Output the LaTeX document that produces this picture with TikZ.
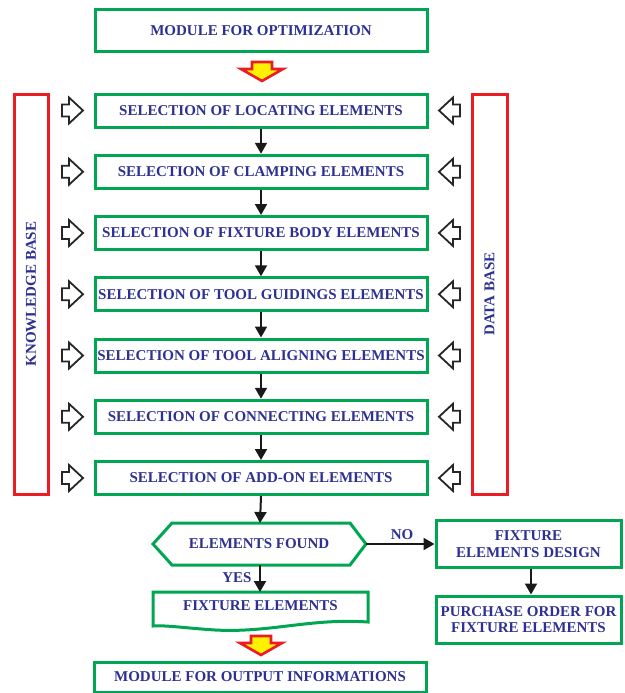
\documentclass[tikz,border=0pt]{standalone}
\usepackage{fontspec}
\setmainfont{Liberation Serif}
\usetikzlibrary{arrows.meta}
\definecolor{bxgreen}{HTML}{00A651}
\definecolor{bxred}{HTML}{ED1C24}
\definecolor{txtblue}{HTML}{2E3192}
\definecolor{arryellow}{HTML}{FFF200}
\tikzset{
  txt/.style={text=txtblue, font=\fontsize{15}{16.5}\selectfont\bfseries, align=center, inner sep=0pt},
  box/.style={txt, draw=bxgreen, line width=3pt, fill=white, minimum width=332pt, minimum height=33pt},
  sidebox/.style={txt, draw=bxgreen, line width=3pt, fill=white, minimum width=185pt, minimum height=47pt},
  basebox/.style={txt, draw=bxred, line width=3pt, rotate=90, minimum width=400pt},
  conn/.style={draw=black!90, line width=2pt, -{Triangle[length=11pt,width=12pt]}},
  lbl/.style={txt},
  downarrow/.pic={\draw[draw=bxred, fill=arryellow, line width=2.6pt, line join=miter]
     (-10,0) -- (10,0) -- (10,7) -- (21,7) -- (0,19) -- (-21,7) -- (-10,7) -- cycle;},
  harrow/.pic={\draw[draw=black!85, fill=white, line width=1.8pt, line join=miter]
     (-11,-6) -- (-4,-6) -- (-4,-13) -- (10,0) -- (-4,13) -- (-4,6) -- (-11,6) -- cycle;}
}
\begin{document}
\begin{tikzpicture}[x=1pt,y=-1pt]
\useasboundingbox[fill=white] (0,0) rectangle (624,693);

\node[box, minimum height=42pt] (opt) at (261,31) {MODULE FOR OPTIMIZATION};
\path (262,62) pic {downarrow};

\node[box] (s1) at (261,110.5) {SELECTION OF LOCATING ELEMENTS};
\node[box] (s2) at (261,171.75) {SELECTION OF CLAMPING ELEMENTS};
\node[box] (s3) at (261,233) {SELECTION OF FIXTURE BODY ELEMENTS};
\node[box] (s4) at (261,294.25) {SELECTION OF TOOL GUIDINGS ELEMENTS};
\node[box] (s5) at (261,355.5) {SELECTION OF TOOL ALIGNING ELEMENTS};
\node[box] (s6) at (261,416.75) {SELECTION OF CONNECTING ELEMENTS};
\node[box] (s7) at (261,478) {SELECTION OF ADD-ON ELEMENTS};

\node[basebox, minimum height=34pt] (kb) at (31,294) {KNOWLEDGE BASE};
\node[basebox, minimum height=35pt] (db) at (489.5,294) {DATA BASE};

\foreach \yy in {110.5,171.75,233,294.25,355.5,416.75,478}{
  \path (73,\yy) pic {harrow};
  \path (449,\yy) pic[xscale=-1] {harrow};
}

\draw[conn] (s1) -- (s2);
\draw[conn] (s2) -- (s3);
\draw[conn] (s3) -- (s4);
\draw[conn] (s4) -- (s5);
\draw[conn] (s5) -- (s6);
\draw[conn] (s6) -- (s7);

% decision hexagon
\node[txt] (found) at (259,544) {ELEMENTS FOUND};
\draw[draw=bxgreen, line width=3pt, line join=miter] (153,544) -- (172,523) -- (350,523) -- (366,544) -- (350,565) -- (172,565) -- cycle;
\coordinate (foundtop) at (260,523);
\coordinate (foundbot) at (260,565);
\coordinate (foundright) at (366,544);
\draw[conn] (s7.south) -- (foundtop);

% document shape
\node[txt] (fixel) at (260.5,606) {FIXTURE ELEMENTS};
\draw[draw=bxgreen, line width=3pt, line join=miter] (153,626) -- (153,592) -- (368,592) -- (368,622)
   .. controls (310,618) and (270,633) .. (215,630)
   .. controls (185,628) and (165,625) .. (153,626) -- cycle;
\coordinate (fixeltop) at (260,592);
\draw[conn] (foundbot) -- (fixeltop);
\node[lbl] (yes) at (237,578) {YES};

\node[sidebox] (design) at (528.5,544) {FIXTURE\\ELEMENTS DESIGN};
\node[sidebox] (purch) at (528.5,619.5) {PURCHASE ORDER FOR\\FIXTURE ELEMENTS};
\draw[conn] (foundright) -- (design.west);
\node[lbl] (no) at (402,535) {NO};
\draw[conn] (design.south -| 531,0) -- (purch.north -| 531,0);

\path (261,636) pic {downarrow};
\node[box, minimum height=30pt] (out) at (260,677) {MODULE FOR OUTPUT INFORMATIONS};
\end{tikzpicture}
\end{document}
